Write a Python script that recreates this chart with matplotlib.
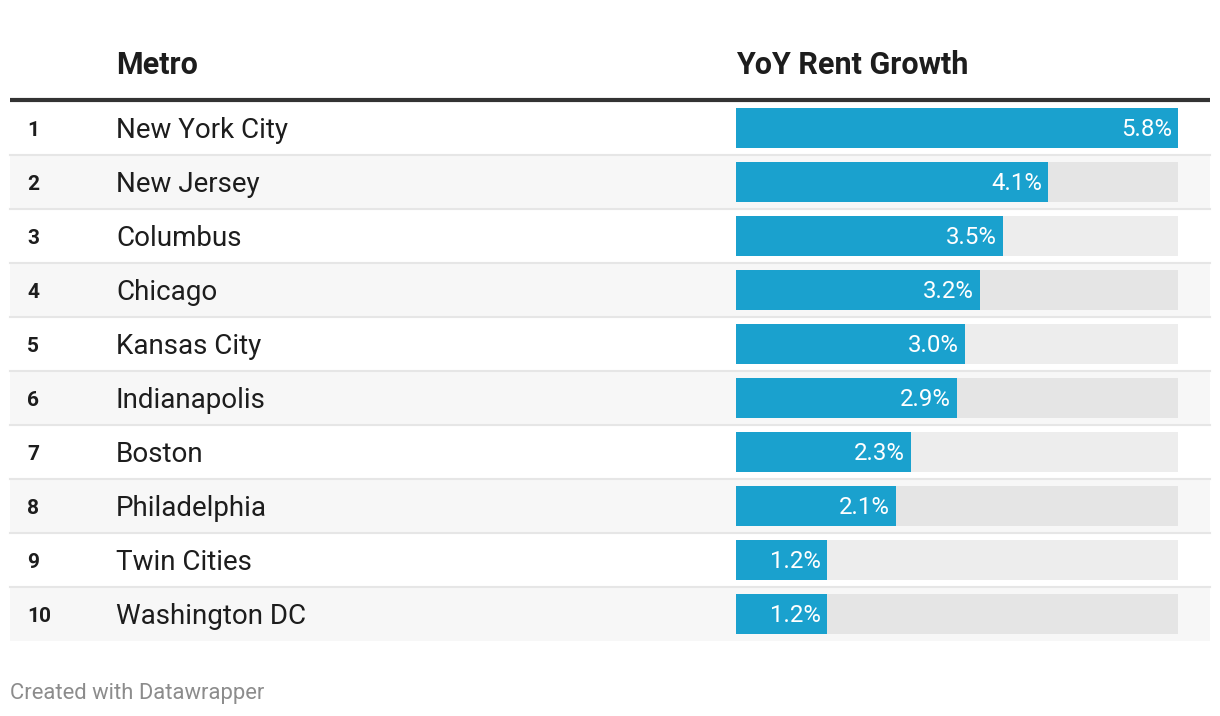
import matplotlib.pyplot as plt

plt.rcParams['font.family'] = ['Roboto', 'DejaVu Sans']

# table data
ranks = ['1', '2', '3', '4', '5', '6', '7', '8', '9', '10']
metros = ['New York City', 'New Jersey', 'Columbus', 'Chicago', 'Kansas City',
          'Indianapolis', 'Boston', 'Philadelphia', 'Twin Cities', 'Washington DC']
growth = [5.8, 4.1, 3.5, 3.2, 3.0, 2.9, 2.3, 2.1, 1.2, 1.2]
headers = ['Metro', 'YoY Rent Growth']

W, H = 1220, 716
fig = plt.figure(figsize=(W / 100, H / 100), dpi=100)
fig.patch.set_facecolor('white')

# base axes in pixel units for the table chrome
base = fig.add_axes([0, 0, 1, 1])
base.set_xlim(0, W)
base.set_ylim(H, 0)
base.axis('off')

txt = '#1d1d1d'
top, row_h = 101, 54
n = len(metros)

for i in range(n):
    y0 = top + i * row_h
    if i % 2 == 1:
        base.add_patch(plt.Rectangle((10, y0), 1200, row_h, color='#f7f7f7', lw=0, zorder=0))
    if i < n - 1:
        base.plot([10, 1210], [y0 + row_h, y0 + row_h], color='#e6e6e6', lw=1.5, zorder=1)
    yc = y0 + row_h / 2 + 2
    base.text(27, yc, ranks[i], fontsize=15, fontweight='bold', color=txt, ha='left', va='center')
    base.text(116, yc, metros[i], fontsize=20, color=txt, ha='left', va='center')

base.plot([10, 1210], [100, 100], color='#333333', lw=3, solid_capstyle='butt', zorder=2)
base.text(116, 65, headers[0], fontsize=22, fontweight='bold', color=txt, ha='left', va='center')
base.text(736, 65, headers[1], fontsize=22, fontweight='bold', color=txt, ha='left', va='center')
base.text(10, 693, 'Created with Datawrapper', fontsize=15.8, color='#8c8c8c', ha='left', va='center')

# bar axes aligned with the rows
x0, x1 = 736, 1178
ax = fig.add_axes([x0 / W, 1 - (top + n * row_h) / H, (x1 - x0) / W, n * row_h / H])
ax.patch.set_alpha(0)
ax.set_xlim(0, max(growth))
ax.set_ylim(n - 0.5, -0.5)
ax.axis('off')

pos = list(range(n))
bh = 40 / row_h
ax.barh(pos, [max(growth)] * n, height=bh, color='black', alpha=0.07, lw=0)
ax.barh(pos, growth, height=bh, color='#1aa1ce', lw=0)
for p, v in zip(pos, growth):
    ax.annotate(f'{v:.1f}%', (v, p), xytext=(-4.5, -1.2), textcoords='offset points',
                ha='right', va='center', fontsize=17.3, color='white')

fig.savefig('out.png', dpi=100)
